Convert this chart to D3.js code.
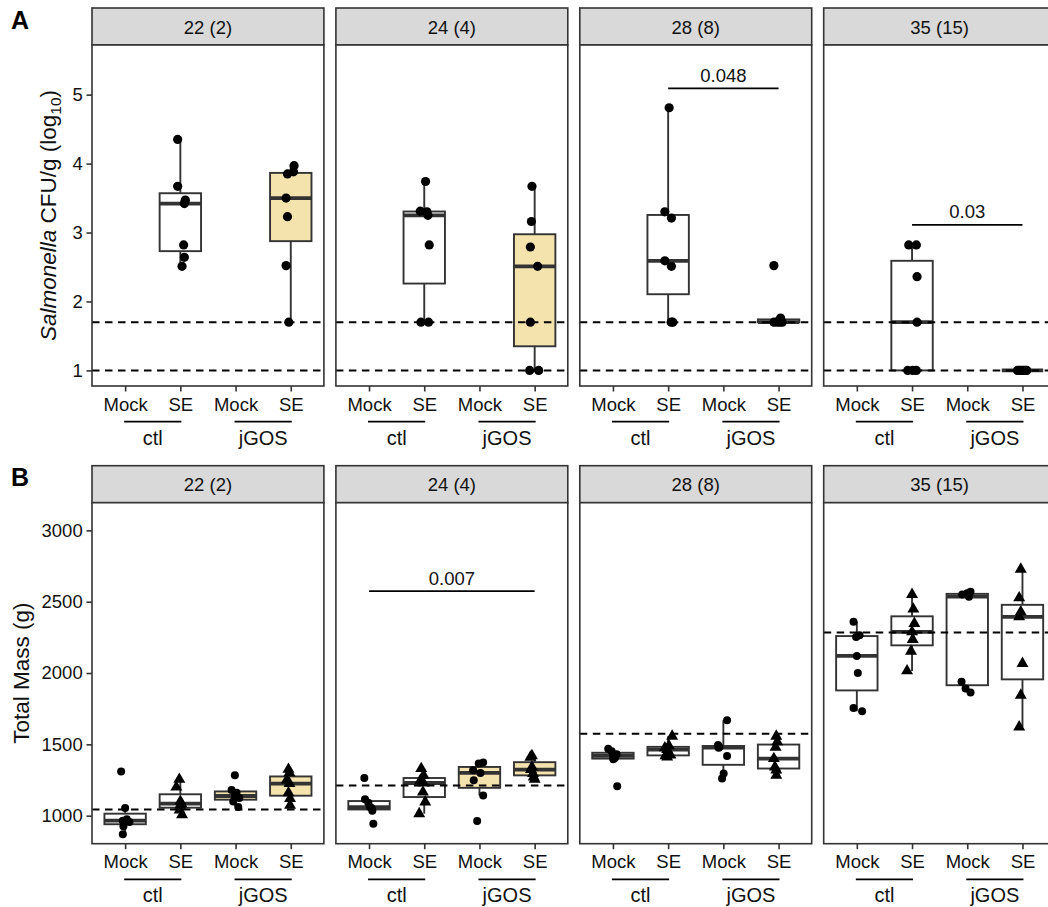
<!DOCTYPE html>
<html>
<head>
<meta charset="utf-8">
<script src="https://cdn.jsdelivr.net/npm/d3@7"></script>
<style>
body { margin: 0; background: #fff; }
svg { display: block; font-family: "Liberation Sans", Arial, sans-serif; }
</style>
</head>
<body>
<svg id="svg"></svg>
<script>
const facets = ['22 (2)', '24 (4)', '28 (8)', '35 (15)'];
const groups = ['ctl.Mock', 'ctl.SE', 'jGOS.Mock', 'jGOS.SE'];
const treatmentLabels = ['Mock', 'SE', 'Mock', 'SE'];
const diets = ['ctl', 'jGOS'];
const jgosFed = [true, true, false, false];

// Salmonella log10 CFU/g, per facet: [ctl Mock, ctl SE, jGOS Mock, jGOS SE]
const cfu = [
	[[], [4.35, 3.67, 3.47, 3.42, 2.82, 2.64, 2.51], [], [3.97, 3.85, 3.88, 3.50, 3.23, 2.52, 1.70]],
	[[], [3.74, 3.31, 3.30, 3.25, 2.82, 1.70, 1.70], [], [3.67, 3.16, 2.79, 2.51, 1.70, 1.00, 1.00]],
	[[], [4.81, 3.30, 3.21, 2.59, 2.51, 1.70, 1.70], [], [2.52, 1.76, 1.72, 1.70, 1.70, 1.70, 1.70]],
	[[], [2.82, 2.82, 2.36, 1.70, 1.00, 1.00, 1.00], [], [1.00, 1.00, 1.00, 1.00, 1.00, 1.00, 1.00]]
];
// horizontal jitter (px)
const cfuJitter = [
	[[], [-2.7, -2.7, 5, 4, 3.3, 4, 1.7], [], [3.3, -3.3, 2.7, -4.7, -3.3, -4.7, -2]],
	[[], [1.3, -4, 2.7, 3.7, 5, -3.3, 4.3], [], [-2.7, -3.3, -4.3, 3, -4.3, -5, 4]],
	[[], [1, -3.3, 3.3, -3.3, 3.3, 4.7, 3], [], [-4.7, 2, 0.3, -4.7, 3.7, -1.3, 1.3]],
	[[], [-3.3, 4.3, 5, 5, -4.3, 0.7, 4.3], [], [-5, 3.3, -1.7, 1.7, -3.3, 0, 4.3]]
];
const cfuLimits = [1.0, 1.7];
const cfuTicks = [1, 2, 3, 4, 5];
const cfuPvals = [null, null, { from: 1, to: 3, y: 5.09, label: '0.048' }, { from: 1, to: 3, y: 3.11, label: '0.03' }];

// Total mass (g), per facet: [ctl Mock, ctl SE, jGOS Mock, jGOS SE]
const mass = [
	[[1310, 1053, 975, 965, 955, 925, 870], [1255, 1200, 1100, 1084, 1072, 1040, 1007], [1283, 1180, 1160, 1138, 1124, 1100, 1060], [1325, 1300, 1250, 1225, 1160, 1120, 1072]],
	[[1264, 1115, 1090, 1060, 1052, 1035, 944], [1330, 1283, 1245, 1229, 1165, 1096, 1014], [1372, 1365, 1318, 1300, 1248, 1142, 962], [1420, 1410, 1340, 1323, 1295, 1270, 1255]],
	[[1470, 1452, 1430, 1420, 1405, 1395, 1206], [1557, 1490, 1475, 1463, 1425, 1420, 1411], [1669, 1495, 1482, 1477, 1418, 1295, 1260], [1557, 1517, 1480, 1400, 1341, 1320, 1283]],
	[[2359, 2265, 2253, 2120, 2001, 1755, 1732], [2551, 2448, 2347, 2289, 2235, 2153, 2015], [2570, 2560, 2550, 2535, 1938, 1891, 1863], [2728, 2527, 2429, 2394, 2067, 1844, 1622]]
];
const massJitter = [
	[[-4, 0, 1.7, -2.3, 4.3, -1.7, -2.3], [-1, -4, 0, 1, 0, -0.7, 1.7], [-0.7, -4, 1, -0.7, 3.7, -2.3, 2.7], [-2.3, -1.3, -4, -1.3, -2.3, -0.7, -0.7]],
	[[-4.7, -4, -0.7, 1, 2.7, 3.3, 4.3], [-3, -0.7, -4, -0.7, -1.3, 1, -5], [3.7, -0.7, -6.3, 1, -5.7, 3.7, -2.3], [-2.7, -4.3, -2.7, -3.7, -1.7, -1, 0]],
	[[-4.7, -1.3, 3.7, 0.3, 2, 0.3, 4.3], [4, 0.7, -3.3, -1, 2.3, -2.7, -1], [3.7, -5.3, -4, -4.7, 3.7, 0.3, -1.3], [-2.3, -1.3, -3, -4.7, -3.7, -2.3, -2.3]],
	[[-3.3, 2.7, -0.7, 0, 1, -3.3, 5.3], [0, 1.3, 2.3, 0, 0.7, -1, -5], [3.3, 0, -5, 1.7, -5.7, -1.7, 3.3], [-1.7, -3.3, -1.7, -3.3, 0, -1.7, -3.3]]
];
const massBaseline = [1044, 1212, 1575, 2284];
const massTicks = [1000, 1500, 2000, 2500, 3000];
const massPvals = [null, { from: 0, to: 3, y: 2574, label: '0.007' }, null, null];

const svgWidth = 1048;
const svgHeight = 907;
const stripHeight = 37;
const panelHeight = 341;
const borderColor = '#333333';
const textColor = '#111111';
const beige = '#F5E3AE';

const svg = d3.select('#svg').attr('width', svgWidth).attr('height', svgHeight);
svg.append('rect').attr('width', svgWidth).attr('height', svgHeight).attr('fill', '#fff');

// facet columns
const fx = d3.scaleBand().domain(facets).range([92, 1055.6]).paddingInner(0.0492).paddingOuter(0);
const x = d3.scalePoint().domain(groups).range([0, fx.bandwidth()]).padding(0.6);
const boxWidth = x.step() * 0.75;

function boxStats(values) {
	const s = values.slice().sort(d3.ascending);
	const q1 = d3.quantileSorted(s, 0.25);
	const med = d3.quantileSorted(s, 0.5);
	const q3 = d3.quantileSorted(s, 0.75);
	const iqr = q3 - q1;
	const lo = d3.min(s.filter(v => v >= q1 - 1.5 * iqr));
	const hi = d3.max(s.filter(v => v <= q3 + 1.5 * iqr));
	return { q1, med, q3, lo, hi };
}

function drawPanel(opt) {
	const stripTop = opt.top;
	const panelTop = stripTop + stripHeight;
	const panelBottom = panelTop + panelHeight;
	const y = d3.scaleLinear().domain(opt.yDomain).range([panelBottom, panelTop]);

	// panel tag
	svg.append('text')
		.attr('x', 11).attr('y', opt.tagY)
		.attr('font-size', 25).attr('font-weight', 'bold').attr('fill', '#000')
		.text(opt.tag);

	// y axis title
	const title = svg.append('text')
		.attr('transform', `translate(${opt.titleX}, ${(panelTop + panelBottom) / 2}) rotate(-90)`)
		.attr('text-anchor', 'middle')
		.attr('font-size', 22.5)
		.attr('fill', textColor);
	opt.title(title);

	// y axis
	const yAxis = svg.append('g')
		.attr('transform', `translate(${fx(facets[0])}, 0)`)
		.call(d3.axisLeft(y).tickValues(opt.ticks).tickSize(5.5).tickPadding(3.8).tickFormat(d3.format('d')));
	yAxis.select('.domain').remove();
	yAxis.selectAll('line').attr('stroke', borderColor).attr('stroke-width', 1.6);
	yAxis.selectAll('text').attr('font-size', 18.5).attr('fill', textColor).attr('font-family', null);

	const facetG = svg.selectAll(null)
			.data(facets)
			.enter()
		.append('g')
			.attr('transform', f => `translate(${fx(f)}, 0)`);

	facetG.each(function(f, fi) {
		const g = d3.select(this);
		const w = fx.bandwidth();

		// strip
		g.append('rect')
			.attr('x', 0).attr('y', stripTop)
			.attr('width', w).attr('height', stripHeight)
			.attr('fill', '#D9D9D9').attr('stroke', borderColor).attr('stroke-width', 1.6);
		g.append('text')
			.attr('x', w / 2).attr('y', stripTop + 25.5)
			.attr('text-anchor', 'middle').attr('font-size', 18.5).attr('fill', textColor)
			.text(f);

		// panel background
		g.append('rect')
			.attr('x', 0).attr('y', panelTop)
			.attr('width', w).attr('height', panelHeight)
			.attr('fill', '#fff');

		// boxplots
		groups.forEach((grp, gi) => {
			const vals = opt.values[fi][gi];
			if (!vals.length) return;
			const st = boxStats(vals);
			const cx = x(grp);
			const fill = (gi >= 2 && jgosFed[fi]) ? beige : '#fff';
			g.append('line')
				.attr('x1', cx).attr('x2', cx)
				.attr('y1', y(st.hi)).attr('y2', y(st.lo))
				.attr('stroke', borderColor).attr('stroke-width', 1.9);
			g.append('rect')
				.attr('x', cx - boxWidth / 2).attr('y', y(st.q3))
				.attr('width', boxWidth).attr('height', Math.max(0, y(st.q1) - y(st.q3)))
				.attr('fill', fill).attr('stroke', borderColor).attr('stroke-width', 1.9);
			g.append('line')
				.attr('x1', cx - boxWidth / 2).attr('x2', cx + boxWidth / 2)
				.attr('y1', y(st.med)).attr('y2', y(st.med))
				.attr('stroke', borderColor).attr('stroke-width', 3.8);
		});

		// reference lines
		g.selectAll(null)
				.data(opt.refLines(fi))
				.enter()
			.append('line')
				.attr('x1', 0).attr('x2', w)
				.attr('y1', d => y(d)).attr('y2', d => y(d))
				.attr('stroke', '#000').attr('stroke-width', 2)
				.attr('stroke-dasharray', '7.5,5.5');

		// points
		groups.forEach((grp, gi) => {
			const vals = opt.values[fi][gi];
			const jit = opt.jitter[fi][gi];
			const shape = (opt.triangles && gi % 2 === 1) ? d3.symbolTriangle : d3.symbolCircle;
			const size = shape === d3.symbolTriangle ? 62 : Math.PI * opt.pointR * opt.pointR;
			g.selectAll(null)
					.data(vals)
					.enter()
				.append('path')
					.attr('d', d3.symbol().type(shape).size(size))
					.attr('transform', (v, i) => `translate(${x(grp) + jit[i]}, ${y(v)})`)
					.attr('fill', '#000');
		});

		// p-value bracket
		const p = opt.pvals[fi];
		if (p) {
			g.append('line')
				.attr('x1', x(groups[p.from])).attr('x2', x(groups[p.to]))
				.attr('y1', y(p.y)).attr('y2', y(p.y))
				.attr('stroke', '#000').attr('stroke-width', 1.7);
			g.append('text')
				.attr('x', (x(groups[p.from]) + x(groups[p.to])) / 2)
				.attr('y', y(p.y) - 6.5)
				.attr('text-anchor', 'middle').attr('font-size', 18.5).attr('fill', textColor)
				.text(p.label);
		}

		// panel border
		g.append('rect')
			.attr('x', 0).attr('y', panelTop)
			.attr('width', w).attr('height', panelHeight)
			.attr('fill', 'none').attr('stroke', borderColor).attr('stroke-width', 1.6);

		// x axis
		const xAxis = g.append('g')
			.attr('transform', `translate(0, ${panelBottom})`)
			.call(d3.axisBottom(x).tickSize(5.5).tickPadding(6).tickFormat((d, i) => treatmentLabels[i]));
		xAxis.select('.domain').remove();
		xAxis.selectAll('line').attr('stroke', borderColor).attr('stroke-width', 1.6);
		xAxis.selectAll('text').attr('font-size', 18.5).attr('fill', textColor).attr('font-family', null);

		// diet group labels
		diets.forEach((d, di) => {
			const x1 = x(groups[di * 2]) - 1;
			const x2 = x(groups[di * 2 + 1]) + 1;
			g.append('line')
				.attr('x1', x1).attr('x2', x2)
				.attr('y1', panelBottom + 35.7).attr('y2', panelBottom + 35.7)
				.attr('stroke', '#000').attr('stroke-width', 1.7);
			g.append('text')
				.attr('x', (x1 + x2) / 2).attr('y', panelBottom + 58.5)
				.attr('text-anchor', 'middle').attr('font-size', 20).attr('fill', textColor)
				.text(d);
		});
	});
}

drawPanel({
	tag: 'A', tagY: 29, top: 8, titleX: 56,
	yDomain: [0.774, 5.72], ticks: cfuTicks,
	values: cfu, jitter: cfuJitter, pvals: cfuPvals,
	refLines: () => cfuLimits,
	triangles: false, pointR: 4.6,
	title: t => {
		t.append('tspan').attr('font-style', 'italic').text('Salmonella');
		t.append('tspan').text(' CFU/g (log');
		t.append('tspan').attr('font-size', 15.5).attr('dy', 5).text('10');
		t.append('tspan').attr('dy', -5).text(')');
	}
});

drawPanel({
	tag: 'B', tagY: 486, top: 465.7, titleX: 29,
	yDomain: [803.5, 3194], ticks: massTicks,
	values: mass, jitter: massJitter, pvals: massPvals,
	refLines: fi => [massBaseline[fi]],
	triangles: true, pointR: 4.0,
	title: t => t.text('Total Mass (g)')
});
</script>
</body>
</html>
